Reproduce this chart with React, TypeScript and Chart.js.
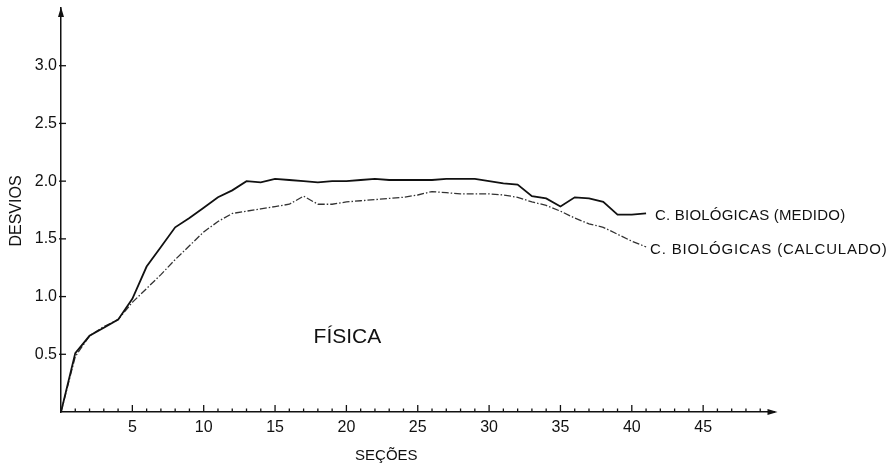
import React, { useEffect, useRef } from "react";
import { Chart, registerables } from "chart.js";

Chart.register(...registerables);

const SECTIONS = [
  0, 1, 2, 3, 4, 5, 6, 7, 8, 9, 10, 11, 12, 13, 14, 15, 16, 17, 18, 19, 20,
  21, 22, 23, 24, 25, 26, 27, 28, 29, 30, 31, 32, 33, 34, 35, 36, 37, 38, 39,
  40, 41,
];
const MEDIDO = [
  0, 0.51, 0.66, 0.73, 0.8, 0.98, 1.26, 1.43, 1.6, 1.68, 1.77, 1.86, 1.92,
  2.0, 1.99, 2.02, 2.01, 2.0, 1.99, 2.0, 2.0, 2.01, 2.02, 2.01, 2.01, 2.01,
  2.01, 2.02, 2.02, 2.02, 2.0, 1.98, 1.97, 1.87, 1.85, 1.78, 1.86, 1.85, 1.82,
  1.71, 1.71, 1.72,
];
const CALCULADO = [
  0, 0.48, 0.66, 0.74, 0.8, 0.95, 1.07, 1.19, 1.32, 1.44, 1.56, 1.65, 1.72,
  1.74, 1.76, 1.78, 1.8, 1.87, 1.8, 1.8, 1.82, 1.83, 1.84, 1.85, 1.86, 1.88,
  1.91, 1.9, 1.89, 1.89, 1.89, 1.88, 1.86, 1.82, 1.79, 1.74, 1.68, 1.63, 1.6,
  1.54, 1.48, 1.43,
];
const X_TICK_LABELS = [5, 10, 15, 20, 25, 30, 35, 40, 45];
const Y_TICK_LABELS = [0.5, 1.0, 1.5, 2.0, 2.5, 3.0];
const SERIES_LABELS = ["C. BIOLÓGICAS (MEDIDO)", "C. BIOLÓGICAS (CALCULADO)"];
const X_TITLE = "SEÇÕES";
const Y_TITLE = "DESVIOS";
const REGION_LABEL = "FÍSICA";

const FONT = '"Liberation Sans", Arial, sans-serif';
const INK = "#111";

const decorPlugin = {
  id: "decor",
  afterDraw(chart: any) {
    const { ctx, chartArea } = chart;
    const xs = chart.scales.x;
    const ys = chart.scales.y;
    const x0 = chartArea.left;
    const y0 = chartArea.bottom;
    ctx.save();
    ctx.strokeStyle = INK;
    ctx.fillStyle = INK;
    ctx.lineWidth = 1.3;
    // x minor/major ticks (upward)
    for (let v = 1; v < 50; v++) {
      const px = xs.getPixelForValue(v);
      const len = v % 5 === 0 ? 7 : 3.5;
      ctx.beginPath();
      ctx.moveTo(px, y0);
      ctx.lineTo(px, y0 - len);
      ctx.stroke();
    }
    // y ticks crossing the axis
    Y_TICK_LABELS.forEach((v) => {
      const py = ys.getPixelForValue(v);
      ctx.beginPath();
      ctx.moveTo(x0 - 2, py);
      ctx.lineTo(x0 + 5, py);
      ctx.stroke();
    });
    // arrows
    ctx.beginPath();
    ctx.moveTo(x0, chartArea.top - 1);
    ctx.lineTo(x0 - 3, chartArea.top + 9);
    ctx.lineTo(x0 + 3, chartArea.top + 9);
    ctx.closePath();
    ctx.fill();
    ctx.beginPath();
    ctx.moveTo(chartArea.right + 3, y0);
    ctx.lineTo(chartArea.right - 7, y0 - 3);
    ctx.lineTo(chartArea.right - 7, y0 + 3);
    ctx.closePath();
    ctx.fill();

    // series labels at line ends
    ctx.font = `15px ${FONT}`;
    ctx.textBaseline = "middle";
    ctx.textAlign = "left";
    const offs = [
      [9, 2, 0.2],
      [4, 3, 0.8],
    ];
    chart.data.datasets.forEach((_: any, i: number) => {
      const meta = chart.getDatasetMeta(i);
      const last = meta.data[meta.data.length - 1];
      if (!last) return;
      (ctx as any).letterSpacing = `${offs[i][2]}px`;
      ctx.fillText(SERIES_LABELS[i], last.x + offs[i][0], last.y + offs[i][1]);
    });
    (ctx as any).letterSpacing = "0px";

    // region label
    ctx.font = `21px ${FONT}`;
    ctx.textBaseline = "alphabetic";
    ctx.fillText(REGION_LABEL, xs.getPixelForValue(17.7), ys.getPixelForValue(0.6));

    // axis titles
    ctx.font = `15px ${FONT}`;
    ctx.textAlign = "center";
    ctx.fillText(X_TITLE, xs.getPixelForValue(22.8), 460);
    ctx.font = `16px ${FONT}`;
    ctx.save();
    ctx.translate(21, (chartArea.top + chartArea.bottom) / 2 + 1);
    ctx.rotate(-Math.PI / 2);
    ctx.fillText(Y_TITLE, 0, 0);
    ctx.restore();
    ctx.restore();
  },
};

export default function App() {
  const ref = useRef<HTMLCanvasElement>(null);
  useEffect(() => {
    if (!ref.current) return;
    Chart.defaults.font.family = FONT;
    const chart = new Chart(ref.current, {
      type: "line",
      data: {
        datasets: [
          {
            label: SERIES_LABELS[0],
            data: SECTIONS.map((s, i) => ({ x: s, y: MEDIDO[i] })),
            borderColor: INK,
            borderWidth: 1.8,
            pointRadius: 0,
            tension: 0,
          },
          {
            label: SERIES_LABELS[1],
            data: SECTIONS.map((s, i) => ({ x: s, y: CALCULADO[i] })),
            borderColor: "#333",
            borderWidth: 1.3,
            borderDash: [7, 2, 1.5, 2],
            pointRadius: 0,
            tension: 0,
          },
        ],
      },
      options: {
        responsive: false,
        animation: false,
        layout: { padding: { left: 0, top: 8, right: 116.5, bottom: 0 } },
        plugins: {
          legend: { display: false },
          tooltip: { enabled: false },
        },
        scales: {
          x: {
            type: "linear",
            min: 0,
            max: 50,
            grid: { display: false, drawTicks: false, tickLength: 0 },
            border: { display: true, color: INK, width: 1.5 },
            ticks: {
              stepSize: 1,
              autoSkip: false,
              maxRotation: 0,
              padding: 6,
              color: INK,
              font: { size: 16 },
              callback: (v: any) => (X_TICK_LABELS.includes(Number(v)) ? String(v) : ""),
            },
            afterFit: (s: any) => {
              s.height = 53;
              s.paddingLeft = 0;
              s.paddingRight = 0;
            },
          },
          y: {
            type: "linear",
            min: 0,
            max: 3.5,
            grid: { display: false, drawTicks: false, tickLength: 0 },
            border: { display: true, color: INK, width: 1.5 },
            ticks: {
              stepSize: 0.5,
              padding: 4,
              color: INK,
              font: { size: 16 },
              callback: (v: any) =>
                Y_TICK_LABELS.includes(Number(v)) ? Number(v).toFixed(1) : "",
            },
            afterFit: (s: any) => {
              s.width = 61;
              s.paddingTop = 0;
              s.paddingBottom = 0;
            },
          },
        },
      },
      plugins: [decorPlugin],
    });
    return () => chart.destroy();
  }, []);
  return (
    <div style={{ position: "absolute", left: 0, top: 0, width: 891, height: 465, background: "#fff" }}>
      <canvas ref={ref} width={891} height={465} style={{ display: "block" }} />
    </div>
  );
}
